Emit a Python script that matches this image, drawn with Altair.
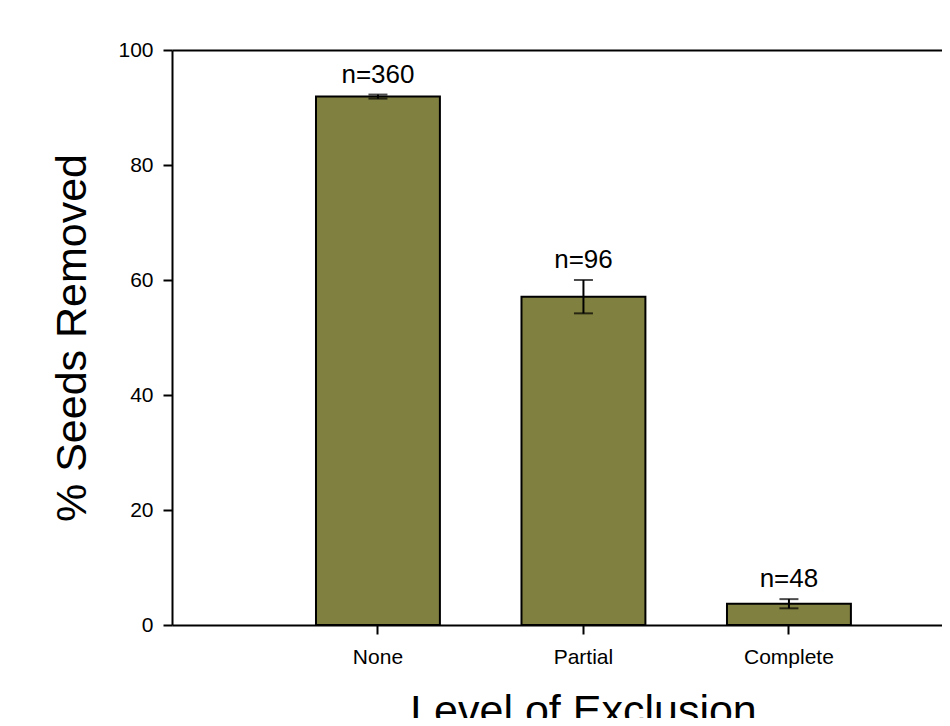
import altair as alt
import pandas as pd

categories = ["None", "Partial", "Complete"]
means = [91.9, 57.1, 3.7]
errors = [0.35, 2.9, 0.8]
ns = [360, 96, 48]
y_ticks = [0, 20, 40, 60, 80, 100]

df = pd.DataFrame({
    "level": categories,
    "mean": means,
    "err": errors,
    "n": ns,
})

FONT = "Liberation Sans"
BAR_COLOR = "#808040"

xscale = alt.Scale(domain=categories, paddingInner=0.397, paddingOuter=0.572, align=0.6125)
yscale = alt.Scale(domain=[0, 100], nice=False)

y_axis = alt.Axis(
    title="% Seeds Removed",
    values=y_ticks,
    tickSize=9,
    labelPadding=10,
    labelFontSize=21,
    titleFontSize=43,
    titlePadding=23,
)

base = alt.Chart(df).transform_calculate(
    lo="datum.mean - datum.err",
    hi="datum.mean + datum.err",
)

bars = base.mark_bar(color=BAR_COLOR, stroke="black", strokeWidth=2).encode(
    x=alt.X("level:N", scale=xscale, sort=categories,
            axis=alt.Axis(title="Level of Exclusion", labelAngle=0, tickSize=9,
                          labelPadding=12, labelFontSize=21, titleFontSize=43,
                          titleX=411, titleY=99, titleBaseline="alphabetic",
                          titleAlign="center")),
    y=alt.Y("mean:Q", scale=yscale, axis=y_axis),
)

rules = base.mark_rule(color="black", strokeWidth=2).encode(
    x=alt.X("level:N", scale=xscale, sort=categories, axis=None),
    y=alt.Y("lo:Q", scale=yscale, axis=y_axis),
    y2="hi:Q",
)

caps_hi = base.mark_tick(color="black", size=19, thickness=2).encode(
    x=alt.X("level:N", scale=xscale, sort=categories, axis=None),
    y=alt.Y("hi:Q", scale=yscale, axis=y_axis),
)

caps_lo = base.mark_tick(color="black", size=19, thickness=2).encode(
    x=alt.X("level:N", scale=xscale, sort=categories, axis=None),
    y=alt.Y("lo:Q", scale=yscale, axis=y_axis),
)

labels = base.transform_calculate(
    label="'n=' + datum.n"
).mark_text(fontSize=26, font=FONT, baseline="bottom", dy=-7, color="black").encode(
    x=alt.X("level:N", scale=xscale, sort=categories,
            axis=alt.Axis(orient="top", labels=False, ticks=False, title=None, domain=True)),
    y=alt.Y("hi:Q", scale=yscale, axis=y_axis),
    text="label:N",
)

chart = alt.layer(bars, rules, caps_hi, caps_lo, labels).resolve_axis(
    x="independent"
).properties(
    width=770,
    height=575,
    autosize=alt.AutoSizeParams(type="none"),
    padding={"left": 164, "top": 42, "right": 0, "bottom": 93},
).configure_view(stroke=None).configure_axis(
    labelFont=FONT,
    titleFont=FONT,
    titleFontWeight="normal",
    labelColor="black",
    titleColor="black",
    domainColor="black",
    domainWidth=2,
    tickColor="black",
    tickWidth=2,
    grid=False,
)

chart.save("out.html", embed_options={"renderer": "svg", "actions": False})
